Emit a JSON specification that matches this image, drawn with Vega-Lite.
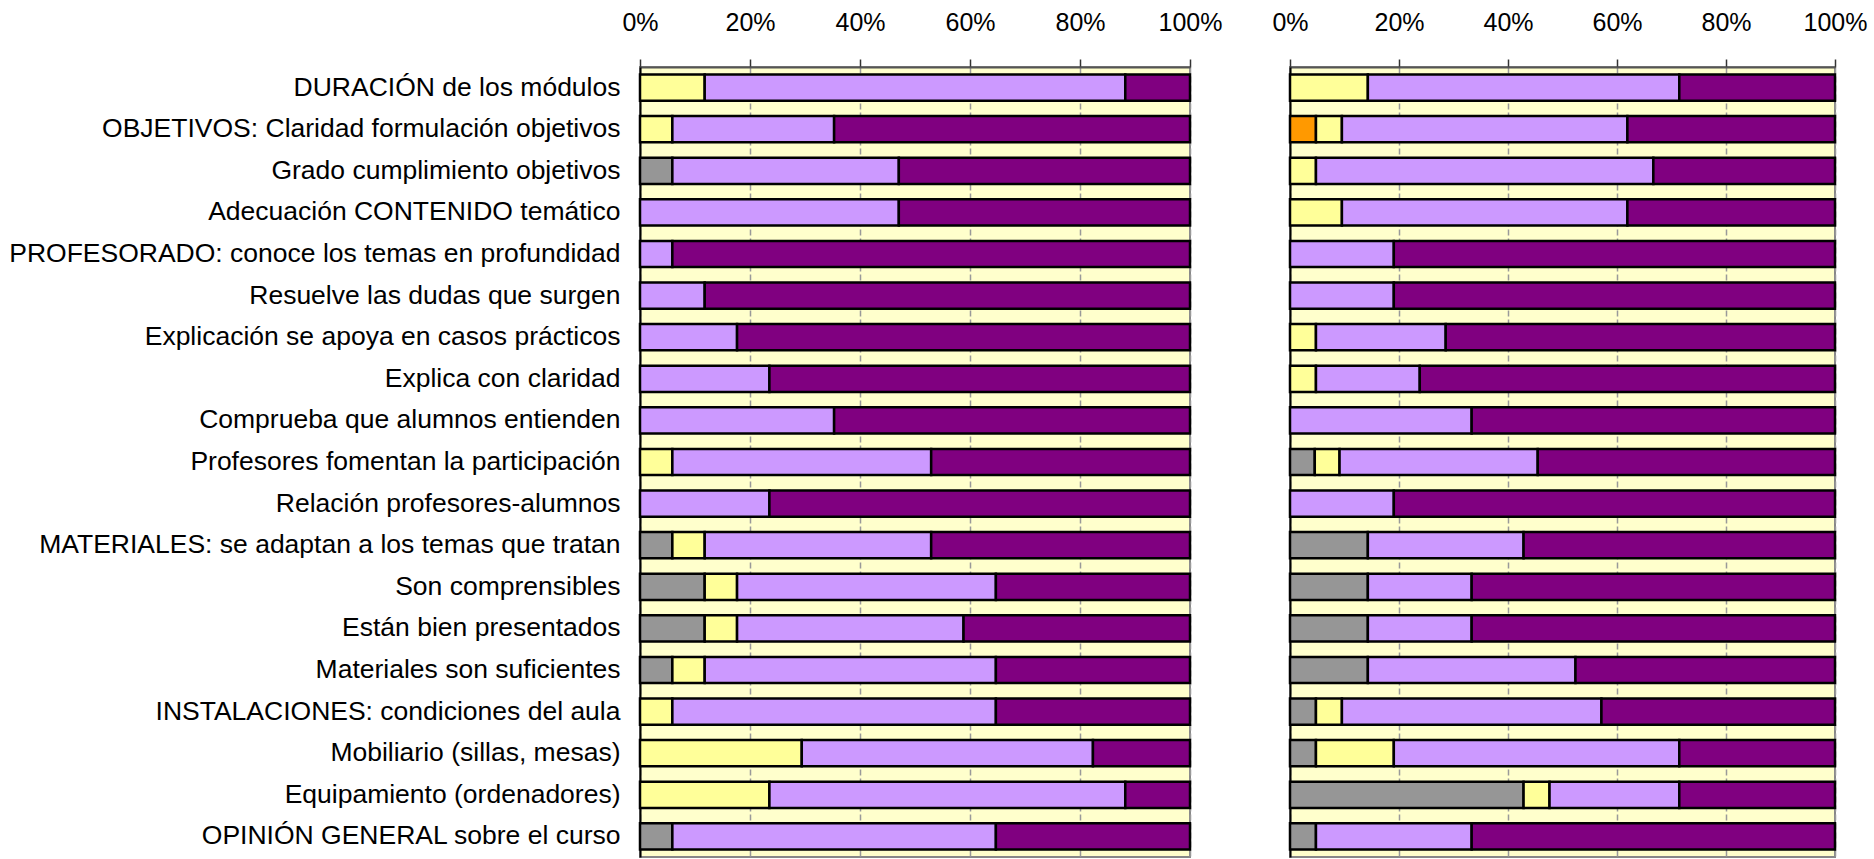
{
  "$schema": "https://vega.github.io/schema/vega-lite/v6.json",
  "autosize": {"type": "pad"},
  "padding": {"left": 7, "top": 9, "right": 4, "bottom": 1},
  "background": "white",
  "spacing": 47,
  "config": {
    "font": "Liberation Sans",
    "view": {"fill": "#FFFFCC", "stroke": "#888888", "strokeWidth": 2}
  },
  "datasets": {
    "encuesta": [
      {"panel": "A", "item": "DURACIÓN de los módulos", "nivel": 2, "respuesta": "Regular", "n": 2},
      {"panel": "A", "item": "DURACIÓN de los módulos", "nivel": 3, "respuesta": "Bien", "n": 13},
      {"panel": "A", "item": "DURACIÓN de los módulos", "nivel": 4, "respuesta": "Muy bien", "n": 2},
      {"panel": "A", "item": "OBJETIVOS: Claridad formulación objetivos", "nivel": 2, "respuesta": "Regular", "n": 1},
      {"panel": "A", "item": "OBJETIVOS: Claridad formulación objetivos", "nivel": 3, "respuesta": "Bien", "n": 5},
      {"panel": "A", "item": "OBJETIVOS: Claridad formulación objetivos", "nivel": 4, "respuesta": "Muy bien", "n": 11},
      {"panel": "A", "item": "Grado cumplimiento objetivos", "nivel": 0, "respuesta": "NS/NC", "n": 1},
      {"panel": "A", "item": "Grado cumplimiento objetivos", "nivel": 3, "respuesta": "Bien", "n": 7},
      {"panel": "A", "item": "Grado cumplimiento objetivos", "nivel": 4, "respuesta": "Muy bien", "n": 9},
      {"panel": "A", "item": "Adecuación CONTENIDO temático", "nivel": 3, "respuesta": "Bien", "n": 8},
      {"panel": "A", "item": "Adecuación CONTENIDO temático", "nivel": 4, "respuesta": "Muy bien", "n": 9},
      {"panel": "A", "item": "PROFESORADO: conoce los temas en profundidad", "nivel": 3, "respuesta": "Bien", "n": 1},
      {"panel": "A", "item": "PROFESORADO: conoce los temas en profundidad", "nivel": 4, "respuesta": "Muy bien", "n": 16},
      {"panel": "A", "item": "Resuelve las dudas que surgen", "nivel": 3, "respuesta": "Bien", "n": 2},
      {"panel": "A", "item": "Resuelve las dudas que surgen", "nivel": 4, "respuesta": "Muy bien", "n": 15},
      {"panel": "A", "item": "Explicación se apoya en casos prácticos", "nivel": 3, "respuesta": "Bien", "n": 3},
      {"panel": "A", "item": "Explicación se apoya en casos prácticos", "nivel": 4, "respuesta": "Muy bien", "n": 14},
      {"panel": "A", "item": "Explica con claridad", "nivel": 3, "respuesta": "Bien", "n": 4},
      {"panel": "A", "item": "Explica con claridad", "nivel": 4, "respuesta": "Muy bien", "n": 13},
      {"panel": "A", "item": "Comprueba que alumnos entienden", "nivel": 3, "respuesta": "Bien", "n": 6},
      {"panel": "A", "item": "Comprueba que alumnos entienden", "nivel": 4, "respuesta": "Muy bien", "n": 11},
      {"panel": "A", "item": "Profesores fomentan la participación", "nivel": 2, "respuesta": "Regular", "n": 1},
      {"panel": "A", "item": "Profesores fomentan la participación", "nivel": 3, "respuesta": "Bien", "n": 8},
      {"panel": "A", "item": "Profesores fomentan la participación", "nivel": 4, "respuesta": "Muy bien", "n": 8},
      {"panel": "A", "item": "Relación profesores-alumnos", "nivel": 3, "respuesta": "Bien", "n": 4},
      {"panel": "A", "item": "Relación profesores-alumnos", "nivel": 4, "respuesta": "Muy bien", "n": 13},
      {"panel": "A", "item": "MATERIALES: se adaptan a los temas que tratan", "nivel": 0, "respuesta": "NS/NC", "n": 1},
      {"panel": "A", "item": "MATERIALES: se adaptan a los temas que tratan", "nivel": 2, "respuesta": "Regular", "n": 1},
      {"panel": "A", "item": "MATERIALES: se adaptan a los temas que tratan", "nivel": 3, "respuesta": "Bien", "n": 7},
      {"panel": "A", "item": "MATERIALES: se adaptan a los temas que tratan", "nivel": 4, "respuesta": "Muy bien", "n": 8},
      {"panel": "A", "item": "Son comprensibles", "nivel": 0, "respuesta": "NS/NC", "n": 2},
      {"panel": "A", "item": "Son comprensibles", "nivel": 2, "respuesta": "Regular", "n": 1},
      {"panel": "A", "item": "Son comprensibles", "nivel": 3, "respuesta": "Bien", "n": 8},
      {"panel": "A", "item": "Son comprensibles", "nivel": 4, "respuesta": "Muy bien", "n": 6},
      {"panel": "A", "item": "Están bien presentados", "nivel": 0, "respuesta": "NS/NC", "n": 2},
      {"panel": "A", "item": "Están bien presentados", "nivel": 2, "respuesta": "Regular", "n": 1},
      {"panel": "A", "item": "Están bien presentados", "nivel": 3, "respuesta": "Bien", "n": 7},
      {"panel": "A", "item": "Están bien presentados", "nivel": 4, "respuesta": "Muy bien", "n": 7},
      {"panel": "A", "item": "Materiales son suficientes", "nivel": 0, "respuesta": "NS/NC", "n": 1},
      {"panel": "A", "item": "Materiales son suficientes", "nivel": 2, "respuesta": "Regular", "n": 1},
      {"panel": "A", "item": "Materiales son suficientes", "nivel": 3, "respuesta": "Bien", "n": 9},
      {"panel": "A", "item": "Materiales son suficientes", "nivel": 4, "respuesta": "Muy bien", "n": 6},
      {"panel": "A", "item": "INSTALACIONES: condiciones del aula", "nivel": 2, "respuesta": "Regular", "n": 1},
      {"panel": "A", "item": "INSTALACIONES: condiciones del aula", "nivel": 3, "respuesta": "Bien", "n": 10},
      {"panel": "A", "item": "INSTALACIONES: condiciones del aula", "nivel": 4, "respuesta": "Muy bien", "n": 6},
      {"panel": "A", "item": "Mobiliario (sillas, mesas)", "nivel": 2, "respuesta": "Regular", "n": 5},
      {"panel": "A", "item": "Mobiliario (sillas, mesas)", "nivel": 3, "respuesta": "Bien", "n": 9},
      {"panel": "A", "item": "Mobiliario (sillas, mesas)", "nivel": 4, "respuesta": "Muy bien", "n": 3},
      {"panel": "A", "item": "Equipamiento (ordenadores)", "nivel": 2, "respuesta": "Regular", "n": 4},
      {"panel": "A", "item": "Equipamiento (ordenadores)", "nivel": 3, "respuesta": "Bien", "n": 11},
      {"panel": "A", "item": "Equipamiento (ordenadores)", "nivel": 4, "respuesta": "Muy bien", "n": 2},
      {"panel": "A", "item": "OPINIÓN GENERAL sobre el curso", "nivel": 0, "respuesta": "NS/NC", "n": 1},
      {"panel": "A", "item": "OPINIÓN GENERAL sobre el curso", "nivel": 3, "respuesta": "Bien", "n": 10},
      {"panel": "A", "item": "OPINIÓN GENERAL sobre el curso", "nivel": 4, "respuesta": "Muy bien", "n": 6},

      {"panel": "B", "item": "DURACIÓN de los módulos", "nivel": 2, "respuesta": "Regular", "n": 3},
      {"panel": "B", "item": "DURACIÓN de los módulos", "nivel": 3, "respuesta": "Bien", "n": 12},
      {"panel": "B", "item": "DURACIÓN de los módulos", "nivel": 4, "respuesta": "Muy bien", "n": 6},
      {"panel": "B", "item": "OBJETIVOS: Claridad formulación objetivos", "nivel": 1, "respuesta": "Mal", "n": 1},
      {"panel": "B", "item": "OBJETIVOS: Claridad formulación objetivos", "nivel": 2, "respuesta": "Regular", "n": 1},
      {"panel": "B", "item": "OBJETIVOS: Claridad formulación objetivos", "nivel": 3, "respuesta": "Bien", "n": 11},
      {"panel": "B", "item": "OBJETIVOS: Claridad formulación objetivos", "nivel": 4, "respuesta": "Muy bien", "n": 8},
      {"panel": "B", "item": "Grado cumplimiento objetivos", "nivel": 2, "respuesta": "Regular", "n": 1},
      {"panel": "B", "item": "Grado cumplimiento objetivos", "nivel": 3, "respuesta": "Bien", "n": 13},
      {"panel": "B", "item": "Grado cumplimiento objetivos", "nivel": 4, "respuesta": "Muy bien", "n": 7},
      {"panel": "B", "item": "Adecuación CONTENIDO temático", "nivel": 2, "respuesta": "Regular", "n": 2},
      {"panel": "B", "item": "Adecuación CONTENIDO temático", "nivel": 3, "respuesta": "Bien", "n": 11},
      {"panel": "B", "item": "Adecuación CONTENIDO temático", "nivel": 4, "respuesta": "Muy bien", "n": 8},
      {"panel": "B", "item": "PROFESORADO: conoce los temas en profundidad", "nivel": 3, "respuesta": "Bien", "n": 4},
      {"panel": "B", "item": "PROFESORADO: conoce los temas en profundidad", "nivel": 4, "respuesta": "Muy bien", "n": 17},
      {"panel": "B", "item": "Resuelve las dudas que surgen", "nivel": 3, "respuesta": "Bien", "n": 4},
      {"panel": "B", "item": "Resuelve las dudas que surgen", "nivel": 4, "respuesta": "Muy bien", "n": 17},
      {"panel": "B", "item": "Explicación se apoya en casos prácticos", "nivel": 2, "respuesta": "Regular", "n": 1},
      {"panel": "B", "item": "Explicación se apoya en casos prácticos", "nivel": 3, "respuesta": "Bien", "n": 5},
      {"panel": "B", "item": "Explicación se apoya en casos prácticos", "nivel": 4, "respuesta": "Muy bien", "n": 15},
      {"panel": "B", "item": "Explica con claridad", "nivel": 2, "respuesta": "Regular", "n": 1},
      {"panel": "B", "item": "Explica con claridad", "nivel": 3, "respuesta": "Bien", "n": 4},
      {"panel": "B", "item": "Explica con claridad", "nivel": 4, "respuesta": "Muy bien", "n": 16},
      {"panel": "B", "item": "Comprueba que alumnos entienden", "nivel": 3, "respuesta": "Bien", "n": 7},
      {"panel": "B", "item": "Comprueba que alumnos entienden", "nivel": 4, "respuesta": "Muy bien", "n": 14},
      {"panel": "B", "item": "Profesores fomentan la participación", "nivel": 0, "respuesta": "NS/NC", "n": 1},
      {"panel": "B", "item": "Profesores fomentan la participación", "nivel": 2, "respuesta": "Regular", "n": 1},
      {"panel": "B", "item": "Profesores fomentan la participación", "nivel": 3, "respuesta": "Bien", "n": 8},
      {"panel": "B", "item": "Profesores fomentan la participación", "nivel": 4, "respuesta": "Muy bien", "n": 12},
      {"panel": "B", "item": "Relación profesores-alumnos", "nivel": 3, "respuesta": "Bien", "n": 4},
      {"panel": "B", "item": "Relación profesores-alumnos", "nivel": 4, "respuesta": "Muy bien", "n": 17},
      {"panel": "B", "item": "MATERIALES: se adaptan a los temas que tratan", "nivel": 0, "respuesta": "NS/NC", "n": 3},
      {"panel": "B", "item": "MATERIALES: se adaptan a los temas que tratan", "nivel": 3, "respuesta": "Bien", "n": 6},
      {"panel": "B", "item": "MATERIALES: se adaptan a los temas que tratan", "nivel": 4, "respuesta": "Muy bien", "n": 12},
      {"panel": "B", "item": "Son comprensibles", "nivel": 0, "respuesta": "NS/NC", "n": 3},
      {"panel": "B", "item": "Son comprensibles", "nivel": 3, "respuesta": "Bien", "n": 4},
      {"panel": "B", "item": "Son comprensibles", "nivel": 4, "respuesta": "Muy bien", "n": 14},
      {"panel": "B", "item": "Están bien presentados", "nivel": 0, "respuesta": "NS/NC", "n": 3},
      {"panel": "B", "item": "Están bien presentados", "nivel": 3, "respuesta": "Bien", "n": 4},
      {"panel": "B", "item": "Están bien presentados", "nivel": 4, "respuesta": "Muy bien", "n": 14},
      {"panel": "B", "item": "Materiales son suficientes", "nivel": 0, "respuesta": "NS/NC", "n": 3},
      {"panel": "B", "item": "Materiales son suficientes", "nivel": 3, "respuesta": "Bien", "n": 8},
      {"panel": "B", "item": "Materiales son suficientes", "nivel": 4, "respuesta": "Muy bien", "n": 10},
      {"panel": "B", "item": "INSTALACIONES: condiciones del aula", "nivel": 0, "respuesta": "NS/NC", "n": 1},
      {"panel": "B", "item": "INSTALACIONES: condiciones del aula", "nivel": 2, "respuesta": "Regular", "n": 1},
      {"panel": "B", "item": "INSTALACIONES: condiciones del aula", "nivel": 3, "respuesta": "Bien", "n": 10},
      {"panel": "B", "item": "INSTALACIONES: condiciones del aula", "nivel": 4, "respuesta": "Muy bien", "n": 9},
      {"panel": "B", "item": "Mobiliario (sillas, mesas)", "nivel": 0, "respuesta": "NS/NC", "n": 1},
      {"panel": "B", "item": "Mobiliario (sillas, mesas)", "nivel": 2, "respuesta": "Regular", "n": 3},
      {"panel": "B", "item": "Mobiliario (sillas, mesas)", "nivel": 3, "respuesta": "Bien", "n": 11},
      {"panel": "B", "item": "Mobiliario (sillas, mesas)", "nivel": 4, "respuesta": "Muy bien", "n": 6},
      {"panel": "B", "item": "Equipamiento (ordenadores)", "nivel": 0, "respuesta": "NS/NC", "n": 9},
      {"panel": "B", "item": "Equipamiento (ordenadores)", "nivel": 2, "respuesta": "Regular", "n": 1},
      {"panel": "B", "item": "Equipamiento (ordenadores)", "nivel": 3, "respuesta": "Bien", "n": 5},
      {"panel": "B", "item": "Equipamiento (ordenadores)", "nivel": 4, "respuesta": "Muy bien", "n": 6},
      {"panel": "B", "item": "OPINIÓN GENERAL sobre el curso", "nivel": 0, "respuesta": "NS/NC", "n": 1},
      {"panel": "B", "item": "OPINIÓN GENERAL sobre el curso", "nivel": 3, "respuesta": "Bien", "n": 6},
      {"panel": "B", "item": "OPINIÓN GENERAL sobre el curso", "nivel": 4, "respuesta": "Muy bien", "n": 14}
    ]
  },
  "data": {"name": "encuesta"},
  "hconcat": [
    {
      "width": 550,
      "height": 790,
      "transform": [{"filter": "datum.panel === 'A'"}],
      "mark": {"type": "bar", "stroke": "black", "strokeWidth": 2.5},
      "encoding": {
        "y": {
          "field": "item", "type": "nominal", "sort": null,
          "scale": {"paddingInner": 0.37, "paddingOuter": 0.18},
          "axis": {"title": null, "labelFontSize": 26.5, "labelColor": "black", "labelPadding": 20, "labelLimit": 0, "ticks": false, "domainColor": "black", "domainWidth": 2}
        },
        "x": {
          "field": "n", "type": "quantitative", "stack": "normalize",
          "axis": {"orient": "top", "title": null, "format": ".0%", "values": [0, 0.2, 0.4, 0.6, 0.8, 1], "labelFontSize": 25, "labelColor": "black", "labelPadding": 24, "tickSize": 8, "tickColor": "#333333", "tickWidth": 1.5, "domainColor": "#555555", "domainWidth": 2, "grid": true, "gridColor": "#999999", "gridDash": [6, 3], "gridWidth": 1.5, "labelFlush": false}
        },
        "color": {
          "field": "respuesta", "type": "nominal", "legend": null,
          "scale": {"domain": ["NS/NC", "Mal", "Regular", "Bien", "Muy bien"], "range": ["#969696", "#FF9900", "#FFFF99", "#CC99FF", "#800080"]}
        },
        "order": {"field": "nivel", "type": "quantitative"}
      }
    },
    {
      "width": 545,
      "height": 790,
      "transform": [{"filter": "datum.panel === 'B'"}],
      "mark": {"type": "bar", "stroke": "black", "strokeWidth": 2.5},
      "encoding": {
        "y": {
          "field": "item", "type": "nominal", "sort": null,
          "scale": {"paddingInner": 0.37, "paddingOuter": 0.18},
          "axis": {"title": null, "labels": false, "ticks": false, "domainColor": "black", "domainWidth": 2}
        },
        "x": {
          "field": "n", "type": "quantitative", "stack": "normalize",
          "axis": {"orient": "top", "title": null, "format": ".0%", "values": [0, 0.2, 0.4, 0.6, 0.8, 1], "labelFontSize": 25, "labelColor": "black", "labelPadding": 24, "tickSize": 8, "tickColor": "#333333", "tickWidth": 1.5, "domainColor": "#555555", "domainWidth": 2, "grid": true, "gridColor": "#999999", "gridDash": [6, 3], "gridWidth": 1.5, "labelFlush": false}
        },
        "color": {
          "field": "respuesta", "type": "nominal", "legend": null,
          "scale": {"domain": ["NS/NC", "Mal", "Regular", "Bien", "Muy bien"], "range": ["#969696", "#FF9900", "#FFFF99", "#CC99FF", "#800080"]}
        },
        "order": {"field": "nivel", "type": "quantitative"}
      }
    }
  ]
}
